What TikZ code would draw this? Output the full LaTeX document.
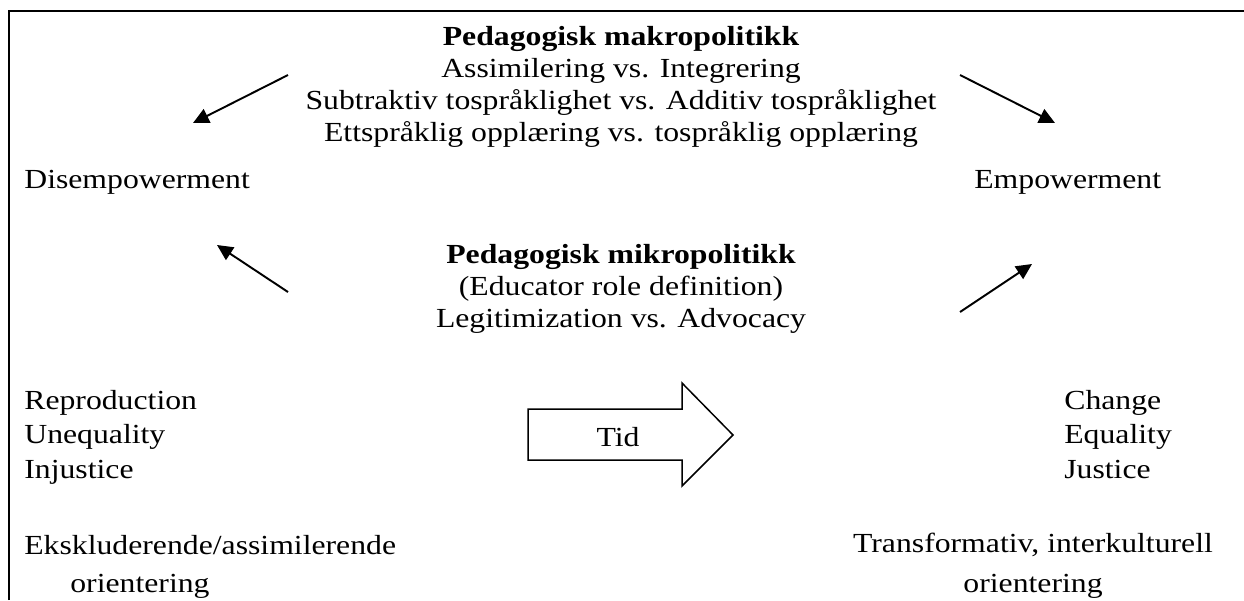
\documentclass[tikz,border=0pt]{standalone}
\usepackage{fontspec}
\setmainfont{Liberation Serif}[FakeStretch=1.15]
\usetikzlibrary{shapes,arrows.meta,positioning}

\begin{document}
\begin{tikzpicture}[x=0.02cm, y=-0.02cm, font=\fontsize{15.7}{18.2}\selectfont,
    txt/.style={inner sep=0pt},
    lst/.style={inner sep=0pt, anchor=base west, align=left, font=\fontsize{15.7}{19.4}\selectfont},
    pointer/.style={-{Triangle[length=9pt,width=8.5pt]}, line width=1.1pt}]
  \useasboundingbox (0,0) rectangle (1244,600);
  % frame (open to the right and at the bottom)
  \draw[line width=1.1pt] (9,600) -- (9,11) -- (1244,11);

  \node[txt, align=center] (makro) at (621,87) {\textbf{Pedagogisk makropolitikk}\\Assimilering vs. Integrering\\Subtraktiv tospråklighet vs. Additiv tospråklighet\\Ettspråklig opplæring vs. tospråklig opplæring};
  \node[txt, anchor=west] (disemp) at (24,182) {Disempowerment};
  \node[txt, anchor=west] (emp) at (974,182) {Empowerment};

  \node[txt, align=center] (mikro) at (621,289) {\textbf{Pedagogisk mikropolitikk}\\(Educator role definition)\\Legitimization vs. Advocacy};

  % base = baseline of the last line
  \node[lst] (repro) at (24,478) {Reproduction\\Unequality\\Injustice};
  \node[lst] (change) at (1064,478) {Change\\Equality\\Justice};

  % time arrow
  \draw[line width=0.85pt] (528,409) -- (682,409) -- (682,383) -- (733,435) -- (682,486) -- (682,460) -- (528,460) -- cycle;
  \node[txt] (tid) at (618,437) {Tid};

  \node[txt, anchor=west] (ekskl) at (24,545) {Ekskluderende/assimilerende};
  \node[txt, anchor=west] (ekskl2) at (70,586) {orientering};
  \node[txt] (transf) at (1033,545) {Transformativ, interkulturell};
  \node[txt] (transf2) at (1033,586) {orientering};

  % arrow ends
  \coordinate (ml0) at (288,75);  \coordinate (ml1) at (193,123);
  \coordinate (mr0) at (960,75);  \coordinate (mr1) at (1055,123);
  \coordinate (il0) at (288,292); \coordinate (il1) at (217,245);
  \coordinate (ir0) at (960,312); \coordinate (ir1) at (1032,264);

  \draw[pointer] (ml0) -- (ml1);
  \draw[pointer] (mr0) -- (mr1);
  \draw[pointer] (il0) -- (il1);
  \draw[pointer] (ir0) -- (ir1);
\end{tikzpicture}
\end{document}
